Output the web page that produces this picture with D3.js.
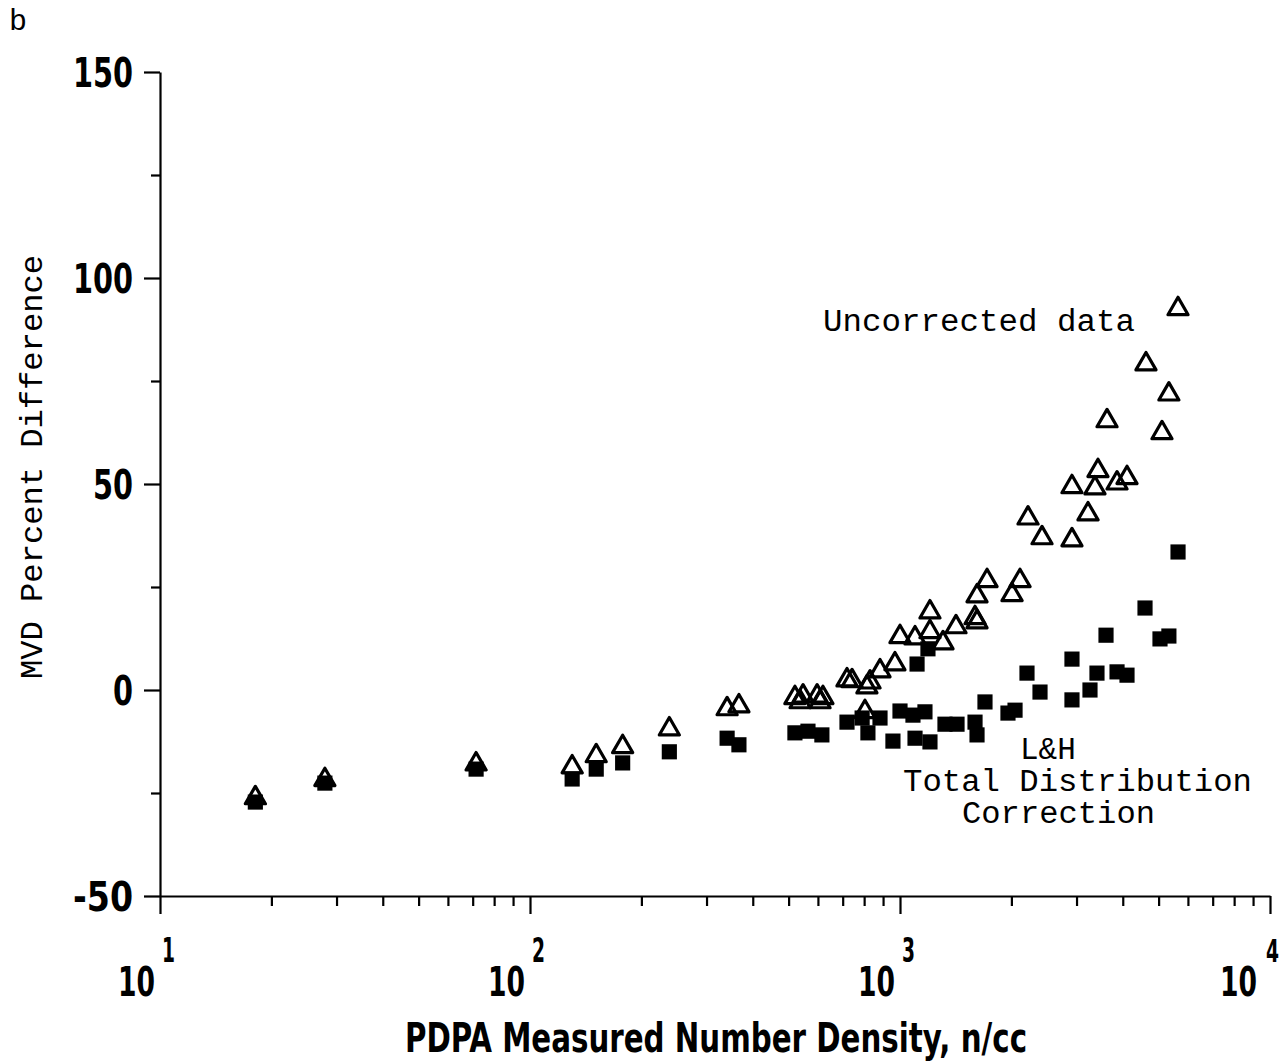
<!DOCTYPE html>
<html><head><meta charset="utf-8">
<script src="https://cdn.jsdelivr.net/npm/d3@7"></script>
<style>
body{margin:0;background:#fff;}
svg{display:block;}
</style></head>
<body>
<svg id="chart" width="1286" height="1062"></svg>
<script>
// Uncorrected data (triangles)
const uncorrectedX = [18.1,27.9,71.5,130,151,178,238,341,367,520,547,537,597,619,608,719,742,814,830,804,883,969,1000,1098,1205,1205,1307,1417,1595,1615,1615,1719,2008,2110,2218,2420,2916,2916,3222,3365,3428,3860,4107,3627,4622,5330,5106,5642];
const uncorrectedY = [-26.2,-21.8,-18.0,-18.7,-16.0,-13.8,-9.5,-4.6,-3.9,-1.9,-1.5,-2.9,-1.5,-1.9,-2.9,2.4,2.2,0.7,1.9,-5.3,4.6,6.3,12.9,12.6,18.9,14.1,11.4,15.3,17.5,16.5,22.8,26.5,23.1,26.5,41.7,36.9,36.4,49.3,42.7,49.0,53.2,50.2,51.5,65.3,79.1,71.8,62.4,92.5];
// L&H Total Distribution Correction (filled squares)
const correctedX = [18.1,27.9,71.5,130,151,178,238,341,367,520,564,615,719,790,819,883,957,1000,1084,1098,1112,1190,1168,1205,1323,1426,1595,1615,1697,1958,2046,2204,2390,2916,2916,3262,3407,3604,3860,4107,4594,5043,5330,5642];
const correctedY = [-27.2,-22.6,-19.2,-21.6,-19.2,-17.7,-15.0,-11.7,-13.3,-10.4,-10.0,-10.9,-7.8,-6.8,-10.4,-6.8,-12.4,-5.1,-6.1,-11.7,6.3,10.0,-5.3,-12.6,-8.3,-8.3,-7.8,-10.9,-2.9,-5.6,-4.9,4.1,-0.5,-2.4,7.5,0,4.1,13.3,4.4,3.6,19.9,12.4,13.1,33.5];

const yMajorTicks = [-50,0,50,100,150];
const yMinorTicks = [-25,25,75,125];
const xDecades = [10,100,1000,10000];
const xDecadeExp = ["1","2","3","4"];
const xTitle = "PDPA Measured Number Density, n/cc";
const yTitle = "MVD Percent Difference";

const svg = d3.select("#chart");
const x = d3.scaleLog().domain([10,10000]).range([160,1270]);
const y = d3.scaleLinear().domain([-50,150]).range([896,72]);

const numFont = "'DejaVu Sans Condensed','DejaVu Sans',sans-serif";
const monoFont = "'Liberation Mono','Courier New',monospace";

// minor x ticks
const xMinor = [];
for (let d=10; d<10000; d*=10) for (let k=2;k<=9;k++) xMinor.push(d*k);

const gx = svg.append("g").attr("transform","translate(0,896)");
gx.call(d3.axisBottom(x).tickValues(xDecades).tickSize(18).tickSizeOuter(0).tickFormat(""));
const gxm = svg.append("g").attr("transform","translate(0,896)");
gxm.call(d3.axisBottom(x).tickValues(xMinor).tickSize(10).tickSizeOuter(0).tickFormat(""));
gxm.select(".domain").remove();

const gy = svg.append("g").attr("transform","translate(160,0)");
gy.call(d3.axisLeft(y).tickValues(yMajorTicks).tickSize(16).tickSizeOuter(0).tickFormat(""));
const gym = svg.append("g").attr("transform","translate(160,0)");
gym.call(d3.axisLeft(y).tickValues(yMinorTicks).tickSize(9).tickSizeOuter(0).tickFormat(""));
gym.select(".domain").remove();

svg.selectAll(".domain, .tick line").attr("stroke","#000").attr("stroke-width",2.2);

// y tick labels
svg.append("g").selectAll("text").data(yMajorTicks).join("text")
  .attr("x",133).attr("y",d=>y(d)+15)
  .attr("text-anchor","end")
  .attr("font-family",numFont).attr("font-weight","bold").attr("font-size",41)
  .attr("textLength",d=>String(d).length*20).attr("lengthAdjust","spacingAndGlyphs")
  .text(d=>String(d));

// x tick labels with superscripts
const xl = svg.append("g");
xl.selectAll("text.base").data(xDecades).join("text").attr("class","base")
  .attr("x",(d,i)=>x(d)-(i===3?13:5)).attr("y",996)
  .attr("text-anchor","end")
  .attr("font-family",numFont).attr("font-weight","bold").attr("font-size",40)
  .attr("textLength",37).attr("lengthAdjust","spacingAndGlyphs")
  .text("10");
xl.selectAll("text.exp").data(xDecades).join("text").attr("class","exp")
  .attr("x",(d,i)=>x(d)+(i===3?-4:2)).attr("y",962)
  .attr("text-anchor","start")
  .attr("font-family",numFont).attr("font-weight","bold").attr("font-size",(d,i)=>i===3?32:34)
  .attr("textLength",13).attr("lengthAdjust","spacingAndGlyphs")
  .text((d,i)=>xDecadeExp[i]);

// axis titles
svg.append("text").attr("x",405).attr("y",1052)
  .attr("font-family",numFont).attr("font-weight","bold").attr("font-size",40)
  .attr("textLength",622).attr("lengthAdjust","spacingAndGlyphs")
  .text(xTitle);
svg.append("text").attr("transform","translate(42,467) rotate(-90)")
  .attr("text-anchor","middle")
  .attr("font-family",monoFont).attr("font-size",31)
  .attr("textLength",424).attr("lengthAdjust","spacingAndGlyphs")
  .text(yTitle);

// panel letter
svg.append("text").attr("x",9).attr("y",30).attr("font-family",monoFont).attr("font-size",30).text("b");

// annotations
const ann = svg.append("g").attr("font-family",monoFont).attr("font-size",31).attr("fill","#000");
ann.append("text").attr("x",823).attr("y",331).attr("textLength",312).attr("lengthAdjust","spacingAndGlyphs").text("Uncorrected data");
ann.append("text").attr("x",1020).attr("y",759).text("L&H");
ann.append("text").attr("x",903).attr("y",791).attr("textLength",349).attr("lengthAdjust","spacingAndGlyphs").text("Total Distribution");
ann.append("text").attr("x",962).attr("y",823).attr("textLength",193).attr("lengthAdjust","spacingAndGlyphs").text("Correction");

// data marks
const tri = d3.symbol().type(d3.symbolTriangle).size(175);
const sq = d3.symbol().type(d3.symbolSquare).size(230);
svg.append("g").selectAll("path").data(uncorrectedX.map((v,i)=>[v,uncorrectedY[i]])).join("path")
  .attr("d",tri).attr("transform",d=>`translate(${x(d[0])},${y(d[1])})`)
  .attr("fill","none").attr("stroke","#000").attr("stroke-width",3.2).attr("stroke-linejoin","round");
svg.append("g").selectAll("path").data(correctedX.map((v,i)=>[v,correctedY[i]])).join("path")
  .attr("d",sq).attr("transform",d=>`translate(${x(d[0])},${y(d[1])})`)
  .attr("fill","#000");
</script>
</body></html>
